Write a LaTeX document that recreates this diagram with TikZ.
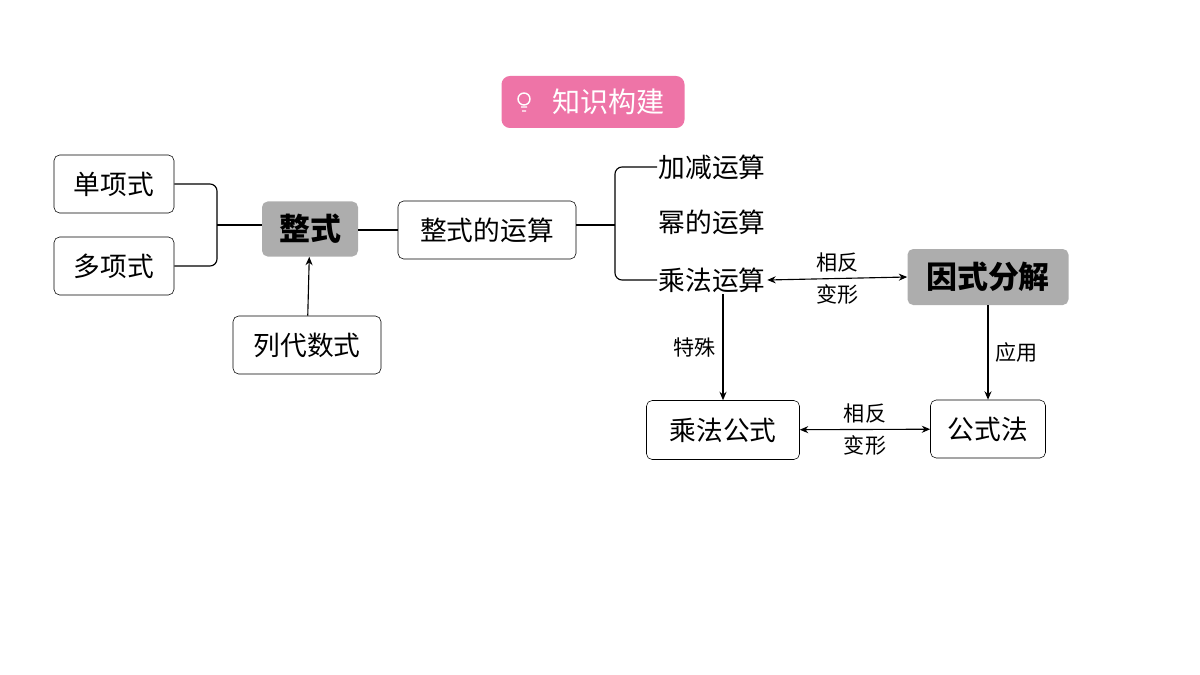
\documentclass[tikz,border=0pt]{standalone}
\usepackage{fontspec}
\newfontfamily\cjk{Noto Sans CJK SC}
\usetikzlibrary{arrows.meta}

\begin{document}
\begin{tikzpicture}[x=0.025cm, y=-0.025cm, font=\cjk,
    box/.style={rectangle, draw=black, rounded corners=4pt, inner sep=0pt, font=\cjk\fontsize{19}{22}\selectfont},
    grey/.style={rectangle, fill=black!32, rounded corners=4pt, inner sep=0pt, font=\cjk\bfseries\fontsize{22}{26}\selectfont},
    plain/.style={inner sep=1pt, font=\cjk\fontsize{19}{22}\selectfont},
    small/.style={inner sep=1pt, font=\cjk\fontsize{15}{18}\selectfont, align=center},
    link/.style={line width=0.8pt},
    arr/.style={line width=0.8pt, -{Stealth[length=6pt,width=5pt]}},
    darr/.style={line width=0.8pt, {Stealth[length=6pt,width=5pt]}-{Stealth[length=6pt,width=5pt]}}]

    \useasboundingbox (0,0) rectangle (1200,675);

    % Title
    \node (title) [fill={rgb,255:red,238;green,116;blue,167}, rounded corners=6pt, minimum width=183*0.025cm, minimum height=52*0.025cm, text=white, font=\cjk\fontsize{20}{24}\selectfont] at (593,102) {\hspace{1.1em}知识构建};
    \draw[white, line width=1pt] (524,99) circle (6) (521,107) -- (527,107) (522,111) -- (526,111);

    % Nodes
    \node (mono) [box, minimum width=120*0.025cm, minimum height=58*0.025cm] at (114,184) {单项式};
    \node (poly) [box, minimum width=120*0.025cm, minimum height=58*0.025cm] at (114,266) {多项式};
    \node (zs) [grey, minimum width=96*0.025cm, minimum height=55*0.025cm] at (310,229) {整式};
    \node (lds) [box, minimum width=148*0.025cm, minimum height=58*0.025cm] at (307,345) {列代数式};
    \node (ops) [box, minimum width=178*0.025cm, minimum height=58*0.025cm] at (487,230) {整式的运算};
    \node (add) [plain, anchor=west] at (657,167) {加减运算};
    \node (pow) [plain, anchor=west] at (657,222) {幂的运算};
    \node (mul) [plain, anchor=west] at (657,280) {乘法运算};
    \node (fac) [grey, minimum width=161*0.025cm, minimum height=56*0.025cm] at (988,277) {因式分解};
    \node (mf) [box, minimum width=153*0.025cm, minimum height=59*0.025cm] at (723,430) {乘法公式};
    \node (gsf) [box, minimum width=115*0.025cm, minimum height=58*0.025cm] at (988,429) {公式法};
    \coordinate (bl) at (217,225);
    \coordinate (br) at (615,225);

    % Connectors
    \draw[link, rounded corners=5pt] (mono.east) -| (bl) |- (poly.east);
    \draw[link] (bl) -- (zs.west |- bl);
    \draw[link] (zs.east |- ops.west) -- (ops.west);
    \draw[link] (ops.east |- br) -- (br);
    \draw[link, rounded corners=5pt] (add.west) -| (br) |- (mul.west);
    \draw[arr] (lds) -- (zs);

    % Arrows
    \draw[darr] (mul.east) -- (fac.west) node[small, midway, above=3pt] {相反} node[small, midway, below=3pt] {变形};
    \draw[arr] (mul.south -| mf.north) -- (mf.north) node[small, midway, left=4pt] {特殊};
    \draw[arr] (fac) -- (gsf) node[small, midway, right=4pt] {应用};
    \draw[darr] (mf) -- (gsf) node[small, midway, above=3pt] {相反} node[small, midway, below=3pt] {变形};

\end{tikzpicture}
\end{document}
